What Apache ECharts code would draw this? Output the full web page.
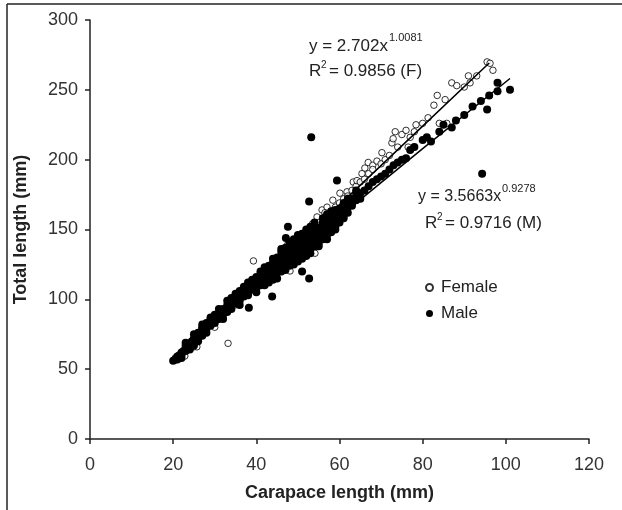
<!DOCTYPE html>
<html>
<head>
<meta charset="utf-8">
<script src="https://cdn.jsdelivr.net/npm/echarts@6/dist/echarts.min.js"></script>
<style>html,body{margin:0;padding:0;background:#fff}#c{width:622px;height:510px}</style>
</head>
<body>
<div id="c"></div>
<script>
// ---- data ----
var xTicks = [0, 20, 40, 60, 80, 100, 120];
var yTicks = [0, 50, 100, 150, 200, 250, 300];

var femaleData = [
  [20.5,58],[22,60],[22.8,59.4],[23,64],[24,67],[25,66],[25.7,66],[25.5,70],[26,72],[27,75],[28,78],[29,82],[30,80],
  [31,86],[32,88],[33.2,68.5],[33,92],[34,95],[35,96],[36,101],[37,103],[38,106],[39,110],[39.3,127.5],[40,112],
  [41,115],[42,117],[43,121],[44,123],[45,127],[46,130],[47,133],[48,135],[48.1,120.3],[49,138],[50,141],[51,144],
  [52,146],[53,149],[54,152],[54.1,133],[54.6,159],[55,155],[55.8,164],[56,158],[57,166],[57,160],[58,163],
  [58.4,171],[59,166],[60,169],[60.1,176],[61,172],[61.8,177],[62,174],[63,178],[63.3,184],[64,181],[64.2,185],
  [65,184],[65.4,190],[66,186],[66.1,194],[66.9,198],[67,190],[68,196],[68,193],[69,199],[70,197],[70.2,205],
  [71,200],[72,203],[72.6,212],[72.9,215],[73.4,220],[74,209],[75,218],[76,221],[76.5,209],[77,216],[78,220],
  [78.4,225],[80,226],[81.3,230],[82.7,239],[83.5,246],[84,226],[85.4,243],[85.8,226],[87,255],[88.2,253],
  [90,252],[91,260],[91.4,255],[93,260],[95.5,270],[96.2,269],[96.9,264],
  [27.5,81],[30.5,89],[35.5,104],[41.5,120],[44.5,128],[47.5,139],[50.5,146],[53.5,154],[56.5,162]
];

var maleData = [
  [20,56],[20.5,57],[21,59],[21.5,60],[22,62],[22.5,63],[23,65],[23,67],[23.5,66],[24,68],[24.5,70],[25,71],
  [25,69],[25.5,73],[26,74],[26.5,75],[27,77],[27,79],[27.5,78],[28,80],[28.5,81],[29,83],[29,85],[29.5,84],
  [30,86],[30,83],[30.5,87],[31,88],[31,90],[31.5,89],[32,91],[32,93],[32.5,92],[33,94],[33,96],[33.5,95],
  [34,97],[34,95],[34.5,99],[35,100],[35,97],[35.5,101],[36,102],[36,99],[36.5,104],[37,105],[37,102],[37.5,107],
  [38,106],[38,109],[38.5,108],[39,110],[39,107],[39.5,112],[40,111],[40,114],[40,108],[40.5,113],[41,116],
  [41,112],[41.5,115],[42,118],[42,114],[42.5,117],[43,120],[43,116],[43.5,122],[44,121],[44,118],[44.5,124],
  [45,123],[45,127],[45,119],[45.5,126],[46,128],[46,124],[46,131],[46.5,127],[47,130],[47,126],[47,133],
  [47.5,129],[48,132],[48,128],[48,136],[48.5,131],[49,134],[49,130],[49,138],[49.5,133],[50,136],[50,131],
  [50,140],[50.5,135],[51,138],[51,133],[51,142],[51.5,137],[52,140],[52,135],[52,145],[52.5,139],[53,142],
  [53,138],[53,147],[53.5,141],[54,144],[54,140],[54,149],[54.5,143],[55,146],[55,142],[55,151],[55.5,148],
  [56,150],[56,145],[56.5,152],[57,153],[57,148],[57.5,155],[58,156],[58,151],[58.5,158],[59,160],[59,155],
  [59.5,162],[60,162],[60,158],[60.5,164],[61,165],[61.5,167],[62,168],[62.5,170],[63,172],[63.5,171],[64,174],
  [65,176],[66,178],[67,181],[68,184],[69,186],[70,188],[71,190],[72,193],[73,196],[74,198],[75,200],[76,201],
  [77,207],[78,209],[80,214],[81,216],[82,213],[84,220],[85,225],[87,223],[88,228],[90,232],[92,238],[94,242],
  [95.5,236],[96,246],[98,249],[98,255],[101,250],
  [22,58],[24,64],[26,71],[28,76],[30,89],[32,86],[34,101],[36,96],[38,112],[40,105],[42,121],[43,112],
  [44,126],[45,115],[46,134],[47,121],[48,139],[49,125],[50,143],[51,129],[52,148],[53,133],[54,152],[55,138],
  [56,155],[57,143],[58,160],[59,150],[60,165],[61,160],[62,172],[63,167],[64,178],[65,172],[36,106],[38,103],
  [42,110],[44,114],[46,120],[48,124],[50,127],[52,131],[55,147],[57,158],[59,164],[61,169],[41,120],[39,114],
  [37,109],[35,104],[33,99],[31,93],[29,87],[27,82],[25,75],[23,69],
  [21,57],[22,60],[23,63],[24,66],[25,67],[25,72],[26,70],[26,76],[27,74],[27,80],[28,79],[28,83],[29,81],[29,86],
  [30,84.5],[31,86],[32,89.5],[33,91],[34,93],[35,98.5],[36,100.5],[37,103.5],[38,104],[39,108.5],[40,110],[40,116],
  [41,118],[41,110],[42,116],[42,123],[43,118],[43,124],[44,116],[44,129],[45,121],[45,130],[46,122],[46,126],
  [46,136],[47,128],[47,137],[48,126],[48,130],[48,141],[49,127],[49,136],[49,143],[50,129],[50,133],[50,138],
  [50,146],[51,131],[51,136],[51,147],[52,133],[52,138],[52,150],[53,136],[53,144],[53,152],[54,138],[54,146],
  [54,155],[55,140],[55,149],[56,143],[56,148],[56,158],[57,146],[57,151],[57,161],[58,148],[58,154],[58,163],
  [59,152],[59,158],[60,155],[60,160],[61,158],[61,163],[62,162],[62,166],[63,169],[64,171],
  [53.2,216],[59.4,185],[47.6,152],[47.1,144],[51,120],[43.8,102],[38.2,94],[52.7,170],[52.7,115],[94.3,190]
];

// fitted power curves, read at a few points
var femaleFit = [[20,55.4],[40,111.4],[60,167.6],[80,224.0],[96,269.2]];
var maleFit = [[20,57.5],[40,109.3],[60,159.2],[80,207.9],[101,258.1]];

var chart = echarts.init(document.getElementById('c'), null, {renderer:'canvas'});
var font = 'Liberation Sans, Arial, sans-serif';
chart.setOption({
  animation: false,
  backgroundColor: '#fff',
  textStyle: {fontFamily: font},
  grid: {left: 90, right: 33, top: 20, bottom: 71},
  xAxis: {
    type: 'value', min: 0, max: 120, interval: 20,
    name: 'Carapace length (mm)', nameLocation: 'middle', nameGap: 45,
    nameTextStyle: {fontFamily: font, fontSize: 18, fontWeight: 'bold', color: '#222'},
    axisLine: {show: true, lineStyle: {color: '#222', width: 1.5}},
    axisTick: {show: true, length: 5, lineStyle: {color: '#222', width: 1.5}},
    axisLabel: {fontFamily: font, fontSize: 18, color: '#333', margin: 17,
      formatter: function(v){ return xTicks.indexOf(v) >= 0 ? String(v) : ''; }},
    splitLine: {show: false}
  },
  yAxis: {
    type: 'value', min: 0, max: 300, interval: 50,
    name: 'Total length (mm)', nameLocation: 'middle', nameGap: 60,
    nameTextStyle: {fontFamily: font, fontSize: 18, fontWeight: 'bold', color: '#222'},
    axisLine: {show: true, lineStyle: {color: '#222', width: 1.5}},
    axisTick: {show: true, length: 5, lineStyle: {color: '#222', width: 1.5}},
    axisLabel: {fontFamily: font, fontSize: 18, color: '#333', margin: 12,
      formatter: function(v){ return yTicks.indexOf(v) >= 0 ? String(v) : ''; }},
    splitLine: {show: false}
  },
  legend: {
    orient: 'vertical', left: 420, top: 274, itemGap: 9,
    itemWidth: 7, itemHeight: 7, icon: 'circle',
    textStyle: {fontFamily: font, fontSize: 17, color: '#222', padding: [0,0,0,3]},
    data: ['Female', 'Male']
  },
  series: [
    {name: 'Female', type: 'scatter', data: femaleData, symbol: 'circle', symbolSize: 6.5,
     itemStyle: {color: '#fff', borderColor: '#000', borderWidth: 1}, z: 2},
    {name: 'Male', type: 'scatter', data: maleData, symbol: 'circle', symbolSize: 8,
     itemStyle: {color: '#000', opacity: 1}, z: 3},
    {name: 'fitF', type: 'line', data: femaleFit, showSymbol: false, smooth: false,
     lineStyle: {color: '#000', width: 1.5}, z: 4},
    {name: 'fitM', type: 'line', data: maleFit, showSymbol: false, smooth: false,
     lineStyle: {color: '#000', width: 1.5}, z: 4}
  ],
  graphic: [
    {type: 'line', shape: {x1: 7, y1: 4, x2: 622, y2: 4}, style: {stroke: '#222', lineWidth: 1.5}},
    {type: 'line', shape: {x1: 7, y1: 4, x2: 7, y2: 510}, style: {stroke: '#222', lineWidth: 1.5}},
    {type: 'text', left: 309, top: 38, style: {text: 'y = 2.702x', font: '17px ' + font, fill: '#222'}},
    {type: 'text', left: 389, top: 32, style: {text: '1.0081', font: '11px ' + font, fill: '#222'}},
    {type: 'text', left: 309, top: 63, style: {text: 'R', font: '17px ' + font, fill: '#222'}},
    {type: 'text', left: 321, top: 60, style: {text: '2', font: '10px ' + font, fill: '#222'}},
    {type: 'text', left: 329, top: 63, style: {text: '= 0.9856 (F)', font: '17px ' + font, fill: '#222'}},
    {type: 'text', left: 418, top: 189, style: {text: 'y = 3.5663x', font: '16px ' + font, fill: '#222'}},
    {type: 'text', left: 502, top: 183, style: {text: '0.9278', font: '11px ' + font, fill: '#222'}},
    {type: 'text', left: 425, top: 215, style: {text: 'R', font: '17px ' + font, fill: '#222'}},
    {type: 'text', left: 437, top: 212, style: {text: '2', font: '10px ' + font, fill: '#222'}},
    {type: 'text', left: 445, top: 215, style: {text: '= 0.9716 (M)', font: '17px ' + font, fill: '#222'}}
  ]
});
</script>
</body>
</html>
